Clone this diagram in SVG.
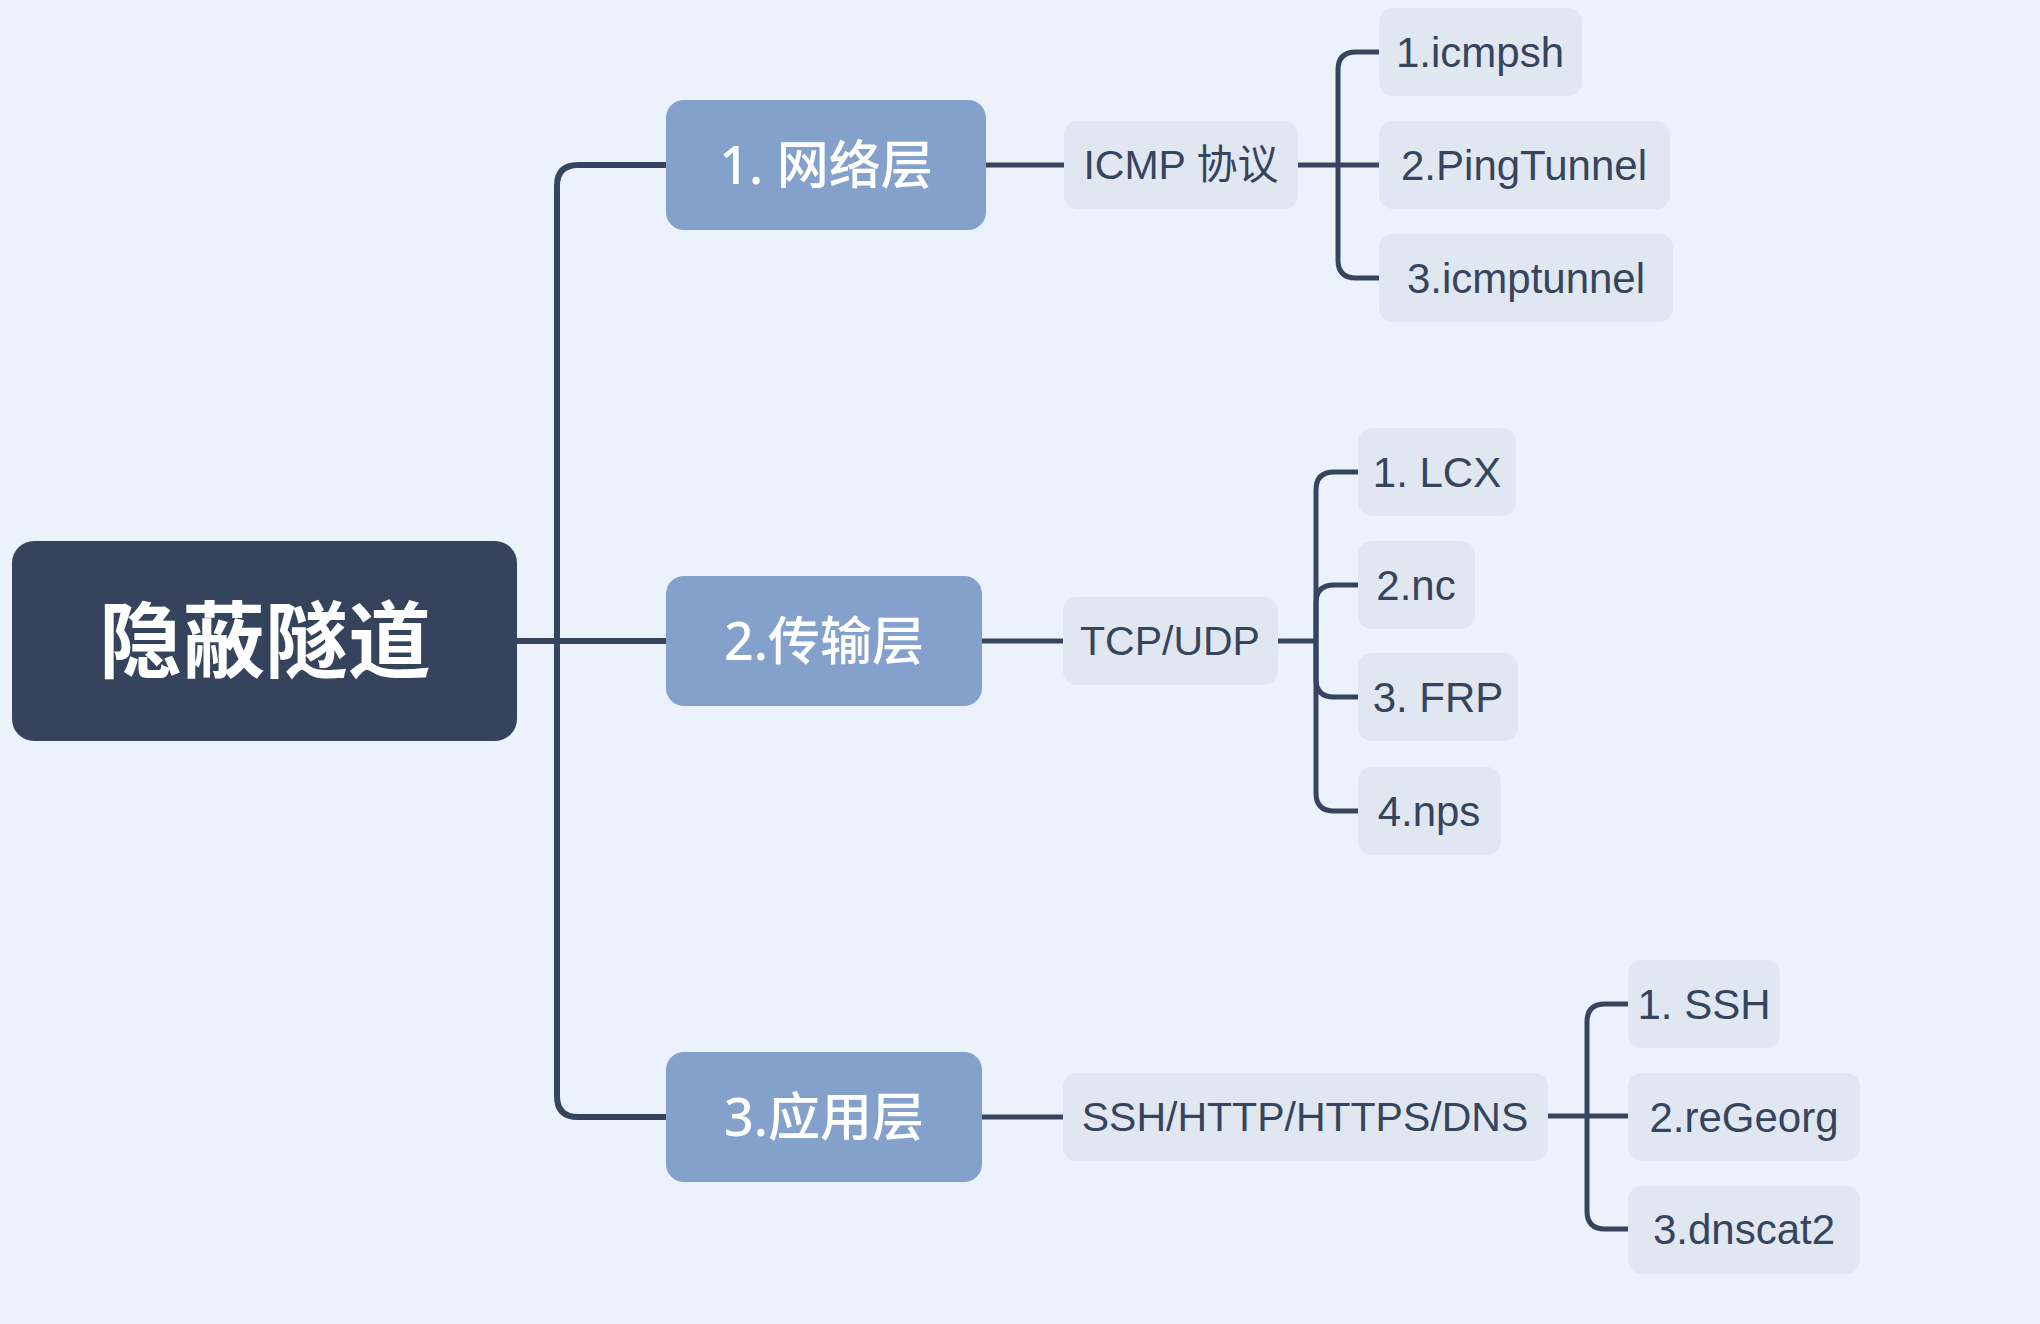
<svg xmlns="http://www.w3.org/2000/svg" width="2040" height="1324" viewBox="0 0 2040 1324">
<style>
.bg{fill:#EBF2FB}
.root rect{fill:#35435D}
.root text{fill:#FFFFFF;font-family:"Noto Sans CJK SC","Noto Sans",sans-serif;font-size:83px;font-weight:bold;text-anchor:middle}
.l1 rect{fill:#84A1CC}
.l1 text{fill:#FFFFFF;font-family:"Noto Sans","Noto Sans CJK SC",sans-serif;font-size:52px;font-weight:500;text-anchor:middle}
.l2 rect,.l3 rect{fill:#E1E7F1}
.l2 text,.l3 text{fill:#36445E;font-family:"Liberation Sans","Noto Sans CJK SC",sans-serif;font-size:41px;text-anchor:middle}
.l3 text{font-size:42px}
.conn path{fill:none;stroke:#36445E;stroke-width:5;stroke-linecap:butt}
.conn .trunk{stroke-width:6}
</style>
<rect class="bg" x="0" y="0" width="2040" height="1324"/>
<g id="connectors" class="conn">
  <path class="trunk" d="M517,641 H557"/>
  <path class="trunk" d="M557,641 V186 Q557,165 578,165 H666"/>
  <path class="trunk" d="M557,641 H666"/>
  <path class="trunk" d="M557,641 V1096 Q557,1117 578,1117 H666"/>
  <path d="M986,165 H1064"/>
  <path d="M982,641 H1063"/>
  <path d="M982,1117 H1063"/>
  <path d="M1298,165 H1338"/>
  <path d="M1338,165 V70 Q1338,52 1356,52 H1379"/>
  <path d="M1338,165 H1379"/>
  <path d="M1338,165 V260 Q1338,278 1356,278 H1379"/>
  <path d="M1278,641 H1316"/>
  <path d="M1316,641 V490 Q1316,472 1334,472 H1358"/>
  <path d="M1316,641 V603 Q1316,585 1334,585 H1358"/>
  <path d="M1316,641 V679 Q1316,697 1334,697 H1358"/>
  <path d="M1316,641 V793 Q1316,811 1334,811 H1358"/>
  <path d="M1548,1116 H1587"/>
  <path d="M1587,1116 V1022 Q1587,1004 1605,1004 H1629"/>
  <path d="M1587,1116 H1629"/>
  <path d="M1587,1116 V1211 Q1587,1229 1605,1229 H1629"/>
</g>
<g id="root" class="root">
  <rect x="12" y="541" width="505" height="200" rx="22"/>
  <text x="265" y="641" dy="0.36em">隐蔽隧道</text>
</g>
<g id="n1" class="l1">
  <rect x="666" y="100" width="320" height="130" rx="18"/>
  <text x="826" y="165" dy="0.36em">1. 网络层</text>
</g>
<g id="n2" class="l1">
  <rect x="666" y="576" width="316" height="130" rx="18"/>
  <text x="824" y="641" dy="0.36em">2.传输层</text>
</g>
<g id="n3" class="l1">
  <rect x="666" y="1052" width="316" height="130" rx="18"/>
  <text x="824" y="1117" dy="0.36em">3.应用层</text>
</g>
<g id="icmp" class="l2">
  <rect x="1064" y="121" width="234" height="88" rx="14"/>
  <text x="1181" y="165" dy="0.35em">ICMP 协议</text>
</g>
<g id="tcpudp" class="l2">
  <rect x="1063" y="597" width="215" height="88" rx="14"/>
  <text x="1170" y="641" dy="0.35em">TCP/UDP</text>
</g>
<g id="app" class="l2">
  <rect x="1063" y="1073" width="485" height="88" rx="14"/>
  <text x="1305" y="1117" dy="0.35em">SSH/HTTP/HTTPS/DNS</text>
</g>
<g id="icmpsh" class="l3">
  <rect x="1379" y="8" width="203" height="88" rx="14"/>
  <text x="1480" y="52" dy="0.35em">1.icmpsh</text>
</g>
<g id="pingtunnel" class="l3">
  <rect x="1379" y="121" width="291" height="88" rx="14"/>
  <text x="1524" y="165" dy="0.35em">2.PingTunnel</text>
</g>
<g id="icmptunnel" class="l3">
  <rect x="1379" y="234" width="294" height="88" rx="14"/>
  <text x="1526" y="278" dy="0.35em">3.icmptunnel</text>
</g>
<g id="lcx" class="l3">
  <rect x="1358" y="428" width="158" height="88" rx="14"/>
  <text x="1437" y="472" dy="0.35em">1. LCX</text>
</g>
<g id="nc" class="l3">
  <rect x="1358" y="541" width="117" height="88" rx="14"/>
  <text x="1416" y="585" dy="0.35em">2.nc</text>
</g>
<g id="frp" class="l3">
  <rect x="1358" y="653" width="160" height="88" rx="14"/>
  <text x="1438" y="697" dy="0.35em">3. FRP</text>
</g>
<g id="nps" class="l3">
  <rect x="1358" y="767" width="143" height="88" rx="14"/>
  <text x="1429" y="811" dy="0.35em">4.nps</text>
</g>
<g id="ssh" class="l3">
  <rect x="1628" y="960" width="152" height="88" rx="14"/>
  <text x="1704" y="1004" dy="0.35em">1. SSH</text>
</g>
<g id="regeorg" class="l3">
  <rect x="1628" y="1073" width="232" height="88" rx="14"/>
  <text x="1744" y="1117" dy="0.35em">2.reGeorg</text>
</g>
<g id="dnscat2" class="l3">
  <rect x="1628" y="1186" width="232" height="88" rx="14"/>
  <text x="1744" y="1229" dy="0.35em">3.dnscat2</text>
</g>
</svg>
